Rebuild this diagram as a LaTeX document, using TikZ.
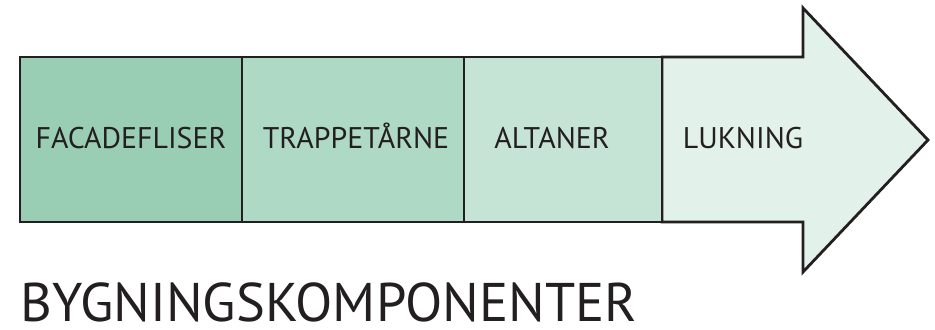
\documentclass[tikz,border=0pt]{standalone}
\usepackage{fontspec}
\setmainfont{PT Sans}
\definecolor{outline}{HTML}{231F20}
\definecolor{stepA}{HTML}{99CEB4}
\definecolor{stepB}{HTML}{AED9C4}
\definecolor{stepC}{HTML}{C6E4D6}
\definecolor{stepD}{HTML}{E2F1EA}
\begin{document}
\begin{tikzpicture}[x=0.02cm, y=-0.02cm,
    segment/.style={draw=outline, line width=1.6pt, line join=miter},
    label/.style={anchor=base, inner sep=0pt, text=outline, font=\fontsize{17}{17}\selectfont}]
      \useasboundingbox (0,0) rectangle (935,329);
      % arrow head part
      \path[segment, fill=stepD] (662,57) -- (803,57) -- (803,8) -- (928,140)
        -- (803,272) -- (803,222) -- (662,222) -- cycle;
      % the three boxes of the shaft
      \foreach \name/\left/\right/\col in {a/20/242/stepA, b/242/464/stepB, c/464/662/stepC}
        \path[segment, fill=\col] (\left,57) rectangle (\right,222);
      \node[label] (a) at (131,148) {FACADEFLISER};
      \node[label] (b) at (356,148) {TRAPPETÅRNE};
      \node[label] (c) at (552,148) {ALTANER};
      \node[label] (d) at (743,148) {LUKNING};
      \node[anchor=base west, inner sep=0pt, text depth=0pt, text=outline, font=\fontsize{31}{31}\selectfont] (title) at (20,321) {BYGNINGSKOMPONENTER};
    \end{tikzpicture}
\end{document}
